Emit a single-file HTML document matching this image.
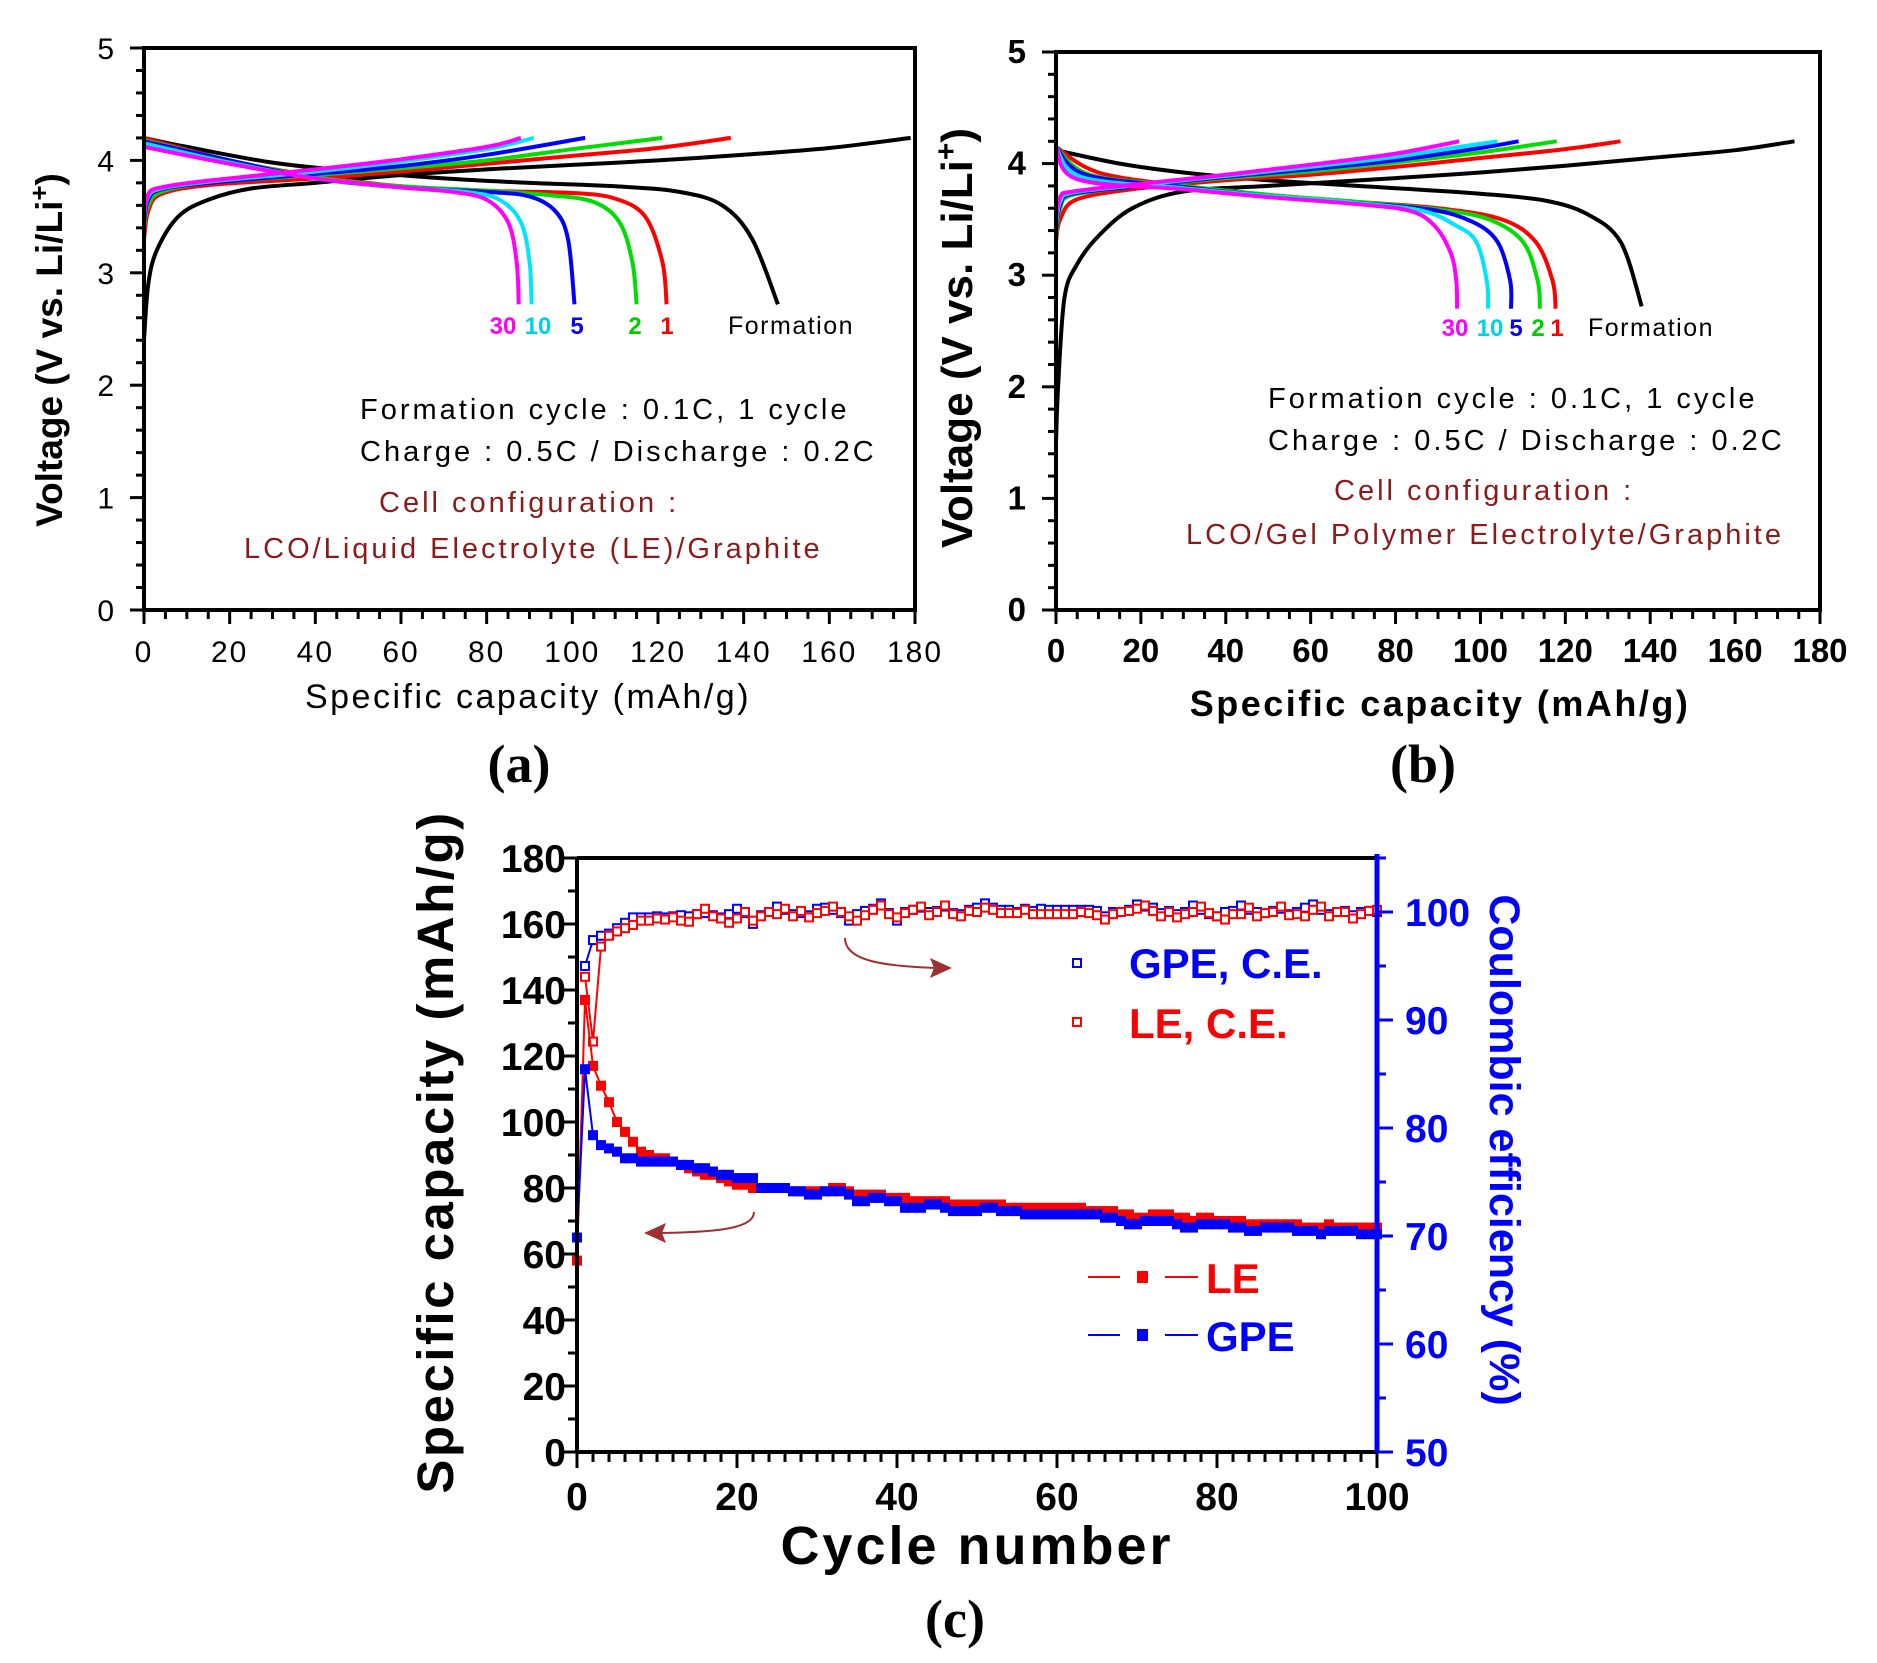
<!DOCTYPE html>
<html><head><meta charset="utf-8">
<style>
html,body{margin:0;padding:0;background:#fff;}
svg{display:block;}
text{font-family:"Liberation Sans",sans-serif;}
text.serif{font-family:"Liberation Serif",serif;}
</style></head>
<body>
<svg id="fig" width="1877" height="1663" viewBox="0 0 1877 1663" xmlns="http://www.w3.org/2000/svg"></svg>
<script>
// ---------- Panel (a) data: [capacity, voltage] ----------
const aFormCh=[[0,2.4],[1,2.9],[3,3.2],[8,3.5],[15,3.65],[25,3.75],[40,3.8],[60,3.87],[80,3.92],[100,3.96],[120,4.0],[140,4.05],[160,4.11],[179,4.2]];
const aFormDis=[[0,4.2],[10,4.12],[30,3.98],[50,3.9],[70,3.84],[90,3.8],[110,3.77],[125,3.72],[135,3.6],[142,3.3],[148,2.72]];
const a1Ch=[[0,3.3],[1,3.55],[4,3.7],[15,3.78],[40,3.84],[60,3.9],[80,3.97],[100,4.04],[120,4.11],[137,4.2]];
const a1Dis=[[0,4.2],[20,4.0],[40,3.86],[60,3.77],[80,3.73],[100,3.71],[110,3.66],[117,3.5],[121,3.1],[122,2.72]];
const a2Ch=[[0,3.4],[1,3.6],[4,3.72],[15,3.8],[40,3.87],[60,3.93],[80,4.0],[100,4.1],[121,4.2]];
const a2Dis=[[0,4.18],[20,4.0],[40,3.85],[60,3.77],[80,3.73],[95,3.69],[105,3.63],[111,3.45],[114,3.1],[115,2.72]];
const a5Ch=[[0,3.45],[1,3.65],[4,3.74],[15,3.8],[40,3.88],[60,3.95],[80,4.05],[103,4.2]];
const a5Dis=[[0,4.17],[20,4.0],[40,3.84],[60,3.76],[80,3.72],[90,3.68],[96,3.55],[99,3.3],[100.5,2.72]];
const a10Ch=[[0,3.5],[1,3.68],[4,3.75],[15,3.81],[40,3.9],[60,3.99],[80,4.1],[91,4.2]];
const a10Dis=[[0,4.15],[20,3.98],[40,3.84],[60,3.76],[75,3.72],[83,3.65],[88,3.45],[90,3.1],[90.5,2.72]];
const a30Ch=[[0,3.5],[1,3.7],[4,3.76],[15,3.82],[40,3.92],[60,4.01],[80,4.12],[88,4.2]];
const a30Dis=[[0,4.12],[20,3.97],[40,3.84],[60,3.76],[72,3.72],[80,3.65],[85,3.45],[87,3.1],[87.5,2.72]];
// ---------- Panel (b) data ----------
const bFormCh=[[0,1.5],[0.5,2.0],[2,2.8],[5,3.1],[10,3.35],[18,3.6],[30,3.75],[50,3.8],[80,3.87],[100,3.92],[120,3.98],[140,4.05],[160,4.12],[174,4.2]];
const bFormDis=[[0,4.12],[15,4.0],[30,3.92],[50,3.85],[80,3.78],[100,3.73],[115,3.67],[125,3.55],[133,3.3],[138,2.72]];
const b1Ch=[[0,3.3],[1,3.5],[5,3.68],[20,3.78],[40,3.85],[60,3.9],[80,3.97],[100,4.05],[120,4.13],[133,4.2]];
const b1Dis=[[0,4.15],[10,3.92],[30,3.8],[50,3.72],[70,3.66],[90,3.6],[105,3.5],[113,3.3],[117,2.95],[117.7,2.7]];
const b2Ch=[[0,3.35],[1,3.6],[4,3.72],[20,3.8],[40,3.87],[60,3.93],[80,4.01],[100,4.1],[118,4.2]];
const b2Dis=[[0,4.15],[8,3.9],[30,3.8],[50,3.72],[70,3.66],[90,3.59],[102,3.5],[110,3.3],[113.5,2.95],[114,2.7]];
const b5Ch=[[0,3.4],[1,3.63],[4,3.73],[20,3.8],[40,3.88],[60,3.95],[80,4.03],[100,4.14],[109,4.2]];
const b5Dis=[[0,4.15],[7,3.9],[30,3.79],[50,3.71],[70,3.65],[88,3.59],[98,3.48],[104,3.3],[107,2.95],[107.2,2.7]];
const b10Ch=[[0,3.45],[1,3.66],[4,3.74],[20,3.81],[40,3.89],[60,3.97],[80,4.06],[95,4.15],[104,4.2]];
const b10Dis=[[0,4.15],[6,3.88],[30,3.78],[50,3.71],[70,3.65],[86,3.58],[94,3.45],[99,3.3],[101.5,2.95],[101.8,2.7]];
const b30Ch=[[0,3.5],[1,3.7],[4,3.75],[20,3.82],[40,3.9],[60,3.99],[80,4.09],[95,4.2]];
const b30Dis=[[0,4.15],[5,3.86],[30,3.77],[50,3.7],[70,3.64],[83,3.58],[89,3.45],[93,3.2],[94.3,2.95],[94.5,2.7]];
// ---------- Panel (c) data ----------
const leCap=[58,137,117,111,106,100,97,94,91,90,89,89,88,87,86,85,84,84,83,82,81,81,80,80,80,80,80,79,79,79,79,79,80,80,79,78,78,78,78,77,77,77,76,76,76,76,76,75,75,75,75,75,75,75,74,74,74,74,74,74,74,74,74,74,73,73,73,73,72,72,71,71,72,72,72,71,71,70,71,71,70,70,70,70,69,69,69,69,69,69,69,68,68,68,69,68,68,68,68,68,68];
const gpeCap=[65,116,96,93,92,91,89,89,88,88,88,88,88,87,87,86,86,85,84,84,83,83,83,80,80,80,80,79,79,78,78,79,79,79,78,76,76,77,77,76,76,74,74,74,75,75,74,73,73,73,73,74,74,73,73,73,72,72,72,72,72,72,72,72,72,72,71,71,70,69,69,70,70,70,70,69,68,68,69,69,69,69,68,68,67,67,68,68,68,68,67,67,67,66,67,67,67,67,66,66,66];
const leCE=[94,88,96.8,97.8,98.2,98.5,98.8,99.2,99.2,99.4,99.3,99.5,99.2,99.1,99.8,100.3,99.6,99.4,99.0,99.4,100.0,99.2,99.6,100.0,99.8,100.3,99.6,100.1,99.5,99.9,100.1,100.5,100.0,99.6,99.2,99.7,100.2,100.6,99.8,99.5,99.9,100.2,100.5,99.7,100.0,100.6,99.8,99.6,100.1,100.0,100.4,100.2,99.9,99.9,99.9,100.2,99.8,99.8,99.8,99.8,99.8,99.8,100.0,99.9,99.7,99.3,99.8,100.0,100.1,100.3,100.6,100.1,99.6,100.0,99.5,99.8,100.0,100.5,99.9,99.6,99.3,99.8,99.8,100.4,99.6,99.9,100.0,100.5,99.7,99.8,99.6,100.2,100.5,99.6,100.0,100.0,99.4,99.8,100.1,100.2];
const gpeCE=[95,97.4,97.8,98.0,98.5,99.0,99.5,99.5,99.5,99.6,99.5,99.6,99.7,99.6,99.8,99.9,99.7,99.5,99.8,100.3,99.9,98.9,99.7,100.0,100.5,100.2,99.8,99.9,99.7,100.3,100.4,100.2,99.9,99.2,99.8,100.1,100.3,100.8,99.9,99.2,100.0,100.2,100.4,100.0,100.1,100.5,99.9,99.8,100.2,100.4,100.8,100.4,100.2,100.2,100.0,100.3,100.1,100.3,100.2,100.2,100.2,100.2,100.2,100.2,100.1,99.6,100.0,100.0,100.2,100.7,100.5,100.4,99.9,100.1,99.8,100.0,100.6,100.2,99.8,99.6,100.0,100.1,100.6,100.2,100.0,99.9,100.1,100.3,99.8,100.0,100.4,100.7,100.2,99.8,100.0,100.1,99.7,100.0,100.1,100.0];
const vTicks=[0,1,2,3,4,5];
const capTicks=[0,20,40,60,80,100,120,140,160,180];
const cycTicks=[0,20,40,60,80,100];
const ceTicks=[50,60,70,80,90,100];

const NS="http://www.w3.org/2000/svg";
const svg=document.getElementById('fig');
function mk(tag,attrs,parent,txt){const e=document.createElementNS(NS,tag);for(const k in attrs)e.setAttribute(k,attrs[k]);if(txt!==undefined)e.textContent=txt;(parent||svg).appendChild(e);return e;}
function smooth(pts){let d='M'+pts[0][0].toFixed(1)+','+pts[0][1].toFixed(1);
 for(let i=0;i<pts.length-1;i++){const p0=pts[Math.max(0,i-1)],p1=pts[i],p2=pts[i+1],p3=pts[Math.min(pts.length-1,i+2)];
  const c1=[p1[0]+(p2[0]-p0[0])/6,p1[1]+(p2[1]-p0[1])/6],c2=[p2[0]-(p3[0]-p1[0])/6,p2[1]-(p3[1]-p1[1])/6];
  d+=' C'+c1[0].toFixed(1)+','+c1[1].toFixed(1)+' '+c2[0].toFixed(1)+','+c2[1].toFixed(1)+' '+p2[0].toFixed(1)+','+p2[1].toFixed(1);}
 return d;}

function voltPanel(id,L,R,T,B,curves,bold,labFs){
 const g=mk('g',{});
 
 
 const X=v=>L+v/180*(R-L), Y=v=>B-v/5*(B-T);
 curves.forEach(c=>{
  const p=mk('path',{d:smooth(c.pts.map(q=>[X(q[0]),Y(q[1])])),fill:'none',stroke:c.col,'stroke-width':4},g);
  
  
 });
 const fr=mk('rect',{x:L,y:T,width:R-L,height:B-T,fill:'none',stroke:'#000','stroke-width':4},g);
 
 
 for(let v=0;v<=180;v+=5){const maj=v%20===0;mk('line',{x1:X(v),x2:X(v),y1:B,y2:B+(maj?14:9),stroke:'#000','stroke-width':3},g);}
 for(let v=0;v<=50;v+=2){const maj=v%10===0;mk('line',{x1:L,x2:L-(maj?14:8),y1:Y(v/10),y2:Y(v/10),stroke:'#000','stroke-width':3},g);}
 capTicks.forEach(v=>{const t=mk('text',{x:X(v),y:B+52,'text-anchor':'middle','font-size':labFs,'font-weight':bold?'bold':'normal','letter-spacing':bold?0:2},g,String(v));
  
  });
 vTicks.forEach(v=>{const t=mk('text',{x:L-30,y:Y(v)+11,'text-anchor':'end','font-size':labFs,'font-weight':bold?'bold':'normal'},g,String(v));
  
  });
 return {X,Y,g};
}

const cols={form:'#000',c1:'#ff0000',c2:'#00dd00',c5:'#0000ff',c10:'#00e5ff',c30:'#ff00ff'};
const pa=voltPanel('a',144,915,48,610,[
 {name:'formation-charge',pts:aFormCh,col:cols.form},{name:'formation-discharge',pts:aFormDis,col:cols.form},
 {name:'cycle1-charge',pts:a1Ch,col:cols.c1},{name:'cycle1-discharge',pts:a1Dis,col:cols.c1},
 {name:'cycle2-charge',pts:a2Ch,col:cols.c2},{name:'cycle2-discharge',pts:a2Dis,col:cols.c2},
 {name:'cycle5-charge',pts:a5Ch,col:cols.c5},{name:'cycle5-discharge',pts:a5Dis,col:cols.c5},
 {name:'cycle10-charge',pts:a10Ch,col:cols.c10},{name:'cycle10-discharge',pts:a10Dis,col:cols.c10},
 {name:'cycle30-charge',pts:a30Ch,col:cols.c30},{name:'cycle30-discharge',pts:a30Dis,col:cols.c30}],false,30);
const pb=voltPanel('b',1056,1820,52,610,[
 {name:'formation-charge',pts:bFormCh,col:cols.form},{name:'formation-discharge',pts:bFormDis,col:cols.form},
 {name:'cycle1-charge',pts:b1Ch,col:cols.c1},{name:'cycle1-discharge',pts:b1Dis,col:cols.c1},
 {name:'cycle2-charge',pts:b2Ch,col:cols.c2},{name:'cycle2-discharge',pts:b2Dis,col:cols.c2},
 {name:'cycle5-charge',pts:b5Ch,col:cols.c5},{name:'cycle5-discharge',pts:b5Dis,col:cols.c5},
 {name:'cycle10-charge',pts:b10Ch,col:cols.c10},{name:'cycle10-discharge',pts:b10Dis,col:cols.c10},
 {name:'cycle30-charge',pts:b30Ch,col:cols.c30},{name:'cycle30-discharge',pts:b30Dis,col:cols.c30}],true,33);

function txt(x,y,s,attrs,name){const t=mk('text',Object.assign({x:x,y:y},attrs||{}),svg,s);
 
 return t;}
// panel a texts
const ya=mk('text',{transform:'translate(62,350) rotate(-90)','text-anchor':'middle','font-size':37,'font-weight':'bold'},svg);


ya.innerHTML='Voltage (V vs. Li/Li<tspan dy="-14" font-size="26">+</tspan><tspan dy="14">)</tspan>';
txt(528,708,'Specific capacity (mAh/g)',{'text-anchor':'middle','font-size':34,'letter-spacing':2.5},'a-x-axis-title');
txt(519,782,'(a)',{'text-anchor':'middle','font-size':54,'font-weight':'bold','class':'serif'},'a-panel-label');
const laS={'font-size':24,'text-anchor':'middle','font-weight':'bold'};
txt(503,334,'30',Object.assign({fill:'#ff00ff'},laS),'a-label-30');
txt(538,334,'10',Object.assign({fill:'#00d0e8'},laS),'a-label-10');
txt(577,334,'5',Object.assign({fill:'#0000ff'},laS),'a-label-5');
txt(635,334,'2',Object.assign({fill:'#00cc00'},laS),'a-label-2');
txt(667,334,'1',Object.assign({fill:'#ff0000'},laS),'a-label-1');
txt(728,334,'Formation',{'font-size':25,'letter-spacing':1.5},'a-label-formation');
const nS={'font-size':29,'letter-spacing':3};
txt(360,419,'Formation cycle : 0.1C, 1 cycle',nS,'a-note-formation');
txt(360,461,'Charge : 0.5C / Discharge : 0.2C',nS,'a-note-rate');
txt(379,512,'Cell configuration :',Object.assign({fill:'#8b1a1a'},nS),'a-note-cell');
txt(244,558,'LCO/Liquid Electrolyte (LE)/Graphite',Object.assign({fill:'#8b1a1a'},nS),'a-note-config');
// panel b texts
const yb=mk('text',{transform:'translate(972,338) rotate(-90)','text-anchor':'middle','font-size':44,'font-weight':'bold'},svg);


yb.innerHTML='Voltage (V vs. Li/Li<tspan dy="-16" font-size="30">+</tspan><tspan dy="16">)</tspan>';
txt(1440,716,'Specific capacity (mAh/g)',{'text-anchor':'middle','font-size':36,'font-weight':'bold','letter-spacing':2.5},'b-x-axis-title');
txt(1423,782,'(b)',{'text-anchor':'middle','font-size':54,'font-weight':'bold','class':'serif'},'b-panel-label');
txt(1455,336,'30',Object.assign({fill:'#ff00ff'},laS),'b-label-30');
txt(1490,336,'10',Object.assign({fill:'#00d0e8'},laS),'b-label-10');
txt(1516,336,'5',Object.assign({fill:'#0000ff'},laS),'b-label-5');
txt(1538,336,'2',Object.assign({fill:'#00cc00'},laS),'b-label-2');
txt(1557,336,'1',Object.assign({fill:'#ff0000'},laS),'b-label-1');
txt(1588,336,'Formation',{'font-size':25,'letter-spacing':1.5},'b-label-formation');
txt(1268,408,'Formation cycle : 0.1C, 1 cycle',nS,'b-note-formation');
txt(1268,450,'Charge : 0.5C / Discharge : 0.2C',nS,'b-note-rate');
txt(1334,500,'Cell configuration :',Object.assign({fill:'#8b1a1a'},nS),'b-note-cell');
txt(1186,544,'LCO/Gel Polymer Electrolyte/Graphite',Object.assign({fill:'#8b1a1a'},nS),'b-note-config');

// ---------- Panel (c) ----------
const cL=577,cR=1377,cT=858,cB=1452;
const cX=v=>cL+v/100*(cR-cL), cY=v=>cB-v/180*(cB-cT), cY2=v=>cB-(v-50)/55*(cB-cT);
const gc=mk('g',{});


function series(arr,start,yf,col,filled,name){
 const pts=arr.map((v,i)=>[cX(i+start),yf(v)]);
 const pl=mk('polyline',{points:pts.map(p=>p.join(',')).join(' '),fill:'none',stroke:col,'stroke-width':2},gc);
 
 
 pts.forEach(p=>{const r=mk('rect',filled?{x:p[0]-5,y:p[1]-5,width:10,height:10,fill:col}:{x:p[0]-4,y:p[1]-4,width:8,height:8,fill:'#fff',stroke:col,'stroke-width':2},gc);
  
  });
}
series(gpeCE,1,cY2,'#0000ff',false,'gpe-ce');
series(leCE,1,cY2,'#ff0000',false,'le-ce');
series(leCap,0,cY,'#ff0000',true,'le-capacity');
series(gpeCap,0,cY,'#0000ff',true,'gpe-capacity');
// axes
mk('line',{x1:cL,x2:cR,y1:cT,y2:cT,stroke:'#000','stroke-width':4},gc);
mk('line',{x1:cL,x2:cR,y1:cB,y2:cB,stroke:'#000','stroke-width':4},gc);
mk('line',{x1:cL,x2:cL,y1:cT,y2:cB,stroke:'#000','stroke-width':4},gc);
mk('line',{x1:cR,x2:cR,y1:cT-4,y2:cB,stroke:'#0000ff','stroke-width':5},gc);
for(let v=0;v<=100;v+=2){const maj=v%20===0;mk('line',{x1:cX(v),x2:cX(v),y1:cB,y2:cB+(maj?16:10),stroke:'#000','stroke-width':3},gc);}
for(let v=0;v<=180;v+=10){const maj=v%20===0;mk('line',{x1:cL,x2:cL-(maj?16:9),y1:cY(v),y2:cY(v),stroke:'#000','stroke-width':3},gc);}
for(let v=50;v<=105;v+=5){const maj=v%10===0;mk('line',{x1:cR,x2:cR+(maj?16:9),y1:cY2(v),y2:cY2(v),stroke:'#0000ff','stroke-width':3},gc);}
for(let v=0;v<=180;v+=20){txt(566,cY(v)+14,String(v),{'text-anchor':'end','font-size':39,'font-weight':'bold'},'c-left-tick-label');}
ceTicks.forEach(v=>txt(1405,cY2(v)+14,String(v),{'font-size':39,'font-weight':'bold',fill:'#0000ff'},'c-right-tick-label'));
cycTicks.forEach(v=>txt(cX(v),1510,String(v),{'text-anchor':'middle','font-size':39,'font-weight':'bold'},'c-x-tick-label'));
const lyt=mk('text',{transform:'translate(453,1152) rotate(-90)','text-anchor':'middle','font-size':51,'font-weight':'bold','letter-spacing':2.5},svg,'Specific capacity (mAh/g)');


const ryt=mk('text',{transform:'translate(1490,1150) rotate(90)','text-anchor':'middle','font-size':43,'font-weight':'bold',fill:'#0000ff'},svg,'Coulombic efficiency (%)');


txt(977,1564,'Cycle number',{'text-anchor':'middle','font-size':54,'font-weight':'bold','letter-spacing':3},'c-x-axis-title');
txt(955,1637,'(c)',{'text-anchor':'middle','font-size':54,'font-weight':'bold','class':'serif'},'c-panel-label');
// legend
const lg=mk('g',{});


mk('rect',{x:1073,y:959,width:8,height:8,fill:'#fff',stroke:'#0000ff','stroke-width':2},lg);
txt(1129,978,'GPE, C.E.',{'font-size':42,'font-weight':'bold',fill:'#0000ff'},'legend-gpe-ce');
mk('rect',{x:1073,y:1018,width:8,height:8,fill:'#fff',stroke:'#ff0000','stroke-width':2},lg);
txt(1129,1038,'LE, C.E.',{'font-size':42,'font-weight':'bold',fill:'#ff0000'},'legend-le-ce');
mk('line',{x1:1088,x2:1120,y1:1277,y2:1277,stroke:'#ff0000','stroke-width':2},lg);
mk('line',{x1:1165,x2:1198,y1:1277,y2:1277,stroke:'#ff0000','stroke-width':2},lg);
mk('rect',{x:1137,y:1271,width:11,height:12,fill:'#ff0000'},lg);
txt(1206,1293,'LE',{'font-size':42,'font-weight':'bold',fill:'#ff0000'},'legend-le');
mk('line',{x1:1088,x2:1120,y1:1335,y2:1335,stroke:'#0000ff','stroke-width':2},lg);
mk('line',{x1:1165,x2:1198,y1:1335,y2:1335,stroke:'#0000ff','stroke-width':2},lg);
mk('rect',{x:1137,y:1329,width:11,height:12,fill:'#0000ff'},lg);
txt(1206,1351,'GPE',{'font-size':42,'font-weight':'bold',fill:'#0000ff'},'legend-gpe');
// arrows
const a1=mk('path',{d:'M845,938 C845,960 880,966 935,968',fill:'none',stroke:'#a03030','stroke-width':2},svg);


const h1=mk('polygon',{points:'952,968 930,958 934,968 930,978',fill:'#a03030'},svg);


const a2=mk('path',{d:'M754,1212 C754,1228 720,1232 662,1233',fill:'none',stroke:'#a03030','stroke-width':2},svg);


const h2=mk('polygon',{points:'644,1233 666,1223 662,1233 666,1243',fill:'#a03030'},svg);


</script>
</body></html>
